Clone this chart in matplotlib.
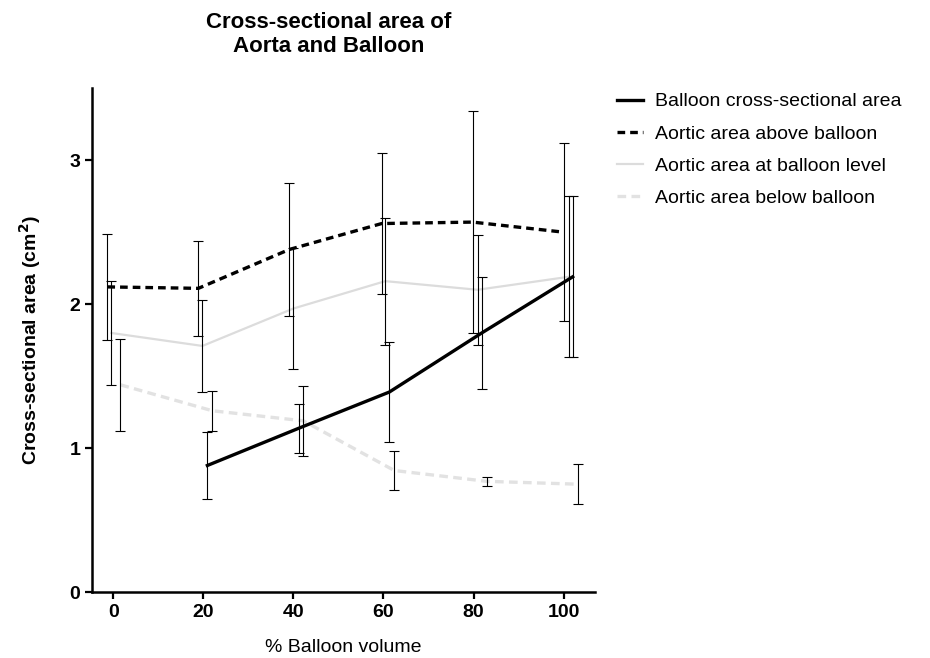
import matplotlib.pyplot as plt

plt.rcParams['font.family'] = ['Liberation Sans', 'DejaVu Sans']

# Dados (x levemente deslocado por série, como no original)
x_above = [-1.3, 18.9, 39.1, 59.6, 79.8, 100.0]
above_mean = [2.12, 2.11, 2.38, 2.56, 2.57, 2.50]
above_err = [0.37, 0.33, 0.46, 0.49, 0.77, 0.62]

x_level = [-0.4, 19.8, 40.0, 60.4, 80.9, 101.1]
level_mean = [1.80, 1.71, 1.97, 2.16, 2.10, 2.19]
level_err = [0.36, 0.32, 0.42, 0.44, 0.38, 0.56]

x_balloon = [20.9, 41.3, 61.3, 81.8, 102.0]
balloon_mean = [0.88, 1.14, 1.39, 1.80, 2.19]
balloon_err = [0.23, 0.17, 0.35, 0.39, 0.56]

x_below = [1.6, 22.0, 42.2, 62.4, 82.9, 103.1]
below_mean = [1.44, 1.26, 1.19, 0.845, 0.77, 0.75]
below_err = [0.32, 0.14, 0.245, 0.135, 0.03, 0.14]

x_ticks = [0, 20, 40, 60, 80, 100]
y_ticks = [0, 1, 2, 3]

fig = plt.figure(figsize=(9.3, 6.58), dpi=100)
ax = fig.add_axes([0.099, 0.100, 0.541, 0.766])

err_kw = dict(fmt='none', ecolor='black', elinewidth=0.8, capsize=3.5, capthick=0.8, zorder=3)

ax.plot(x_balloon, balloon_mean, color='black', lw=2.4, label='Balloon cross-sectional area', zorder=2)
ax.plot(x_above, above_mean, color='black', lw=2.4, ls=(0, (2.3, 1.5)), label='Aortic area above balloon', zorder=2)
ax.plot(x_level, level_mean, color='#dcdcdc', lw=1.6, label='Aortic area at balloon level', zorder=1)
ax.plot(x_below, below_mean, color='#e2e2e2', lw=2.4, ls=(0, (2.6, 1.6)), label='Aortic area below balloon', zorder=1)

ax.errorbar(x_above, above_mean, yerr=above_err, **err_kw)
ax.errorbar(x_level, level_mean, yerr=level_err, **err_kw)
ax.errorbar(x_balloon, balloon_mean, yerr=balloon_err, **err_kw)
ax.errorbar(x_below, below_mean, yerr=below_err, **err_kw)

ax.set_xlim(-4.7, 107)
ax.set_ylim(0, 3.5)
ax.set_xticks(x_ticks)
ax.set_yticks(y_ticks)
for lab in ax.get_xticklabels() + ax.get_yticklabels():
    lab.set_fontweight('bold')
ax.tick_params(labelsize=14, width=1.6, length=5, direction='out')
for s in ['top', 'right']:
    ax.spines[s].set_visible(False)
for s in ['left', 'bottom']:
    ax.spines[s].set_linewidth(1.8)

ax.set_xlabel('% Balloon volume', fontsize=14, labelpad=13)
ax.set_ylabel('Cross-sectional area (cm$^\\mathbf{2}$)', fontsize=14, fontweight='bold', labelpad=19)
ax.set_title('Cross-sectional area of\nAorta and Balloon', fontsize=16, fontweight='bold', pad=26, x=0.47)

ax.legend(loc='upper left', bbox_to_anchor=(0.663, 0.859), bbox_transform=fig.transFigure,
          frameon=False, fontsize=14, handlelength=1.35, handletextpad=0.6,
          labelspacing=0.75, borderpad=0, borderaxespad=0)

fig.savefig('out.png', dpi=100)
